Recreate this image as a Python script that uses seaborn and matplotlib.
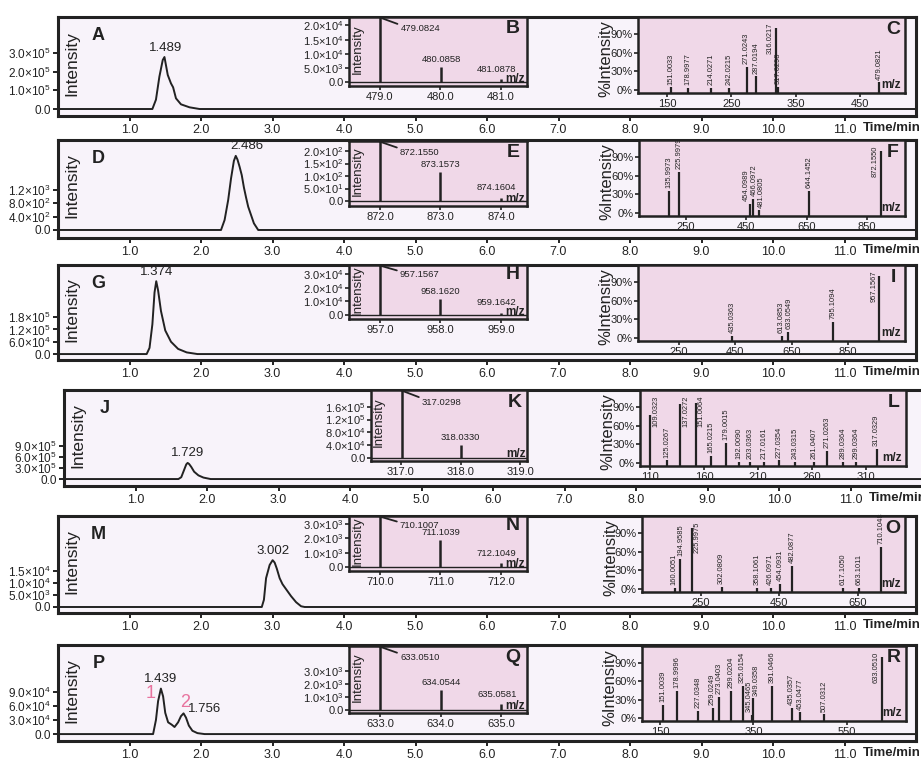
import matplotlib
matplotlib.use('Agg')
import matplotlib.pyplot as plt
import seaborn as sns

# ---------------- chromatograms: time/min, intensity ----------------
A_t = [0, 1.32, 1.37, 1.418, 1.465, 1.489, 1.535, 1.58, 1.61, 1.65, 1.72, 1.84, 1.98, 12]
A_i = [0, 0, 0.5e5, 1.73e5, 2.62e5, 2.78e5, 1.82e5, 1.37e5, 1.16e5, 0.57e5, 0.25e5, 0.09e5, 0, 0]
D_t = [0, 2.28, 2.33, 2.38, 2.42, 2.46, 2.486, 2.51, 2.54, 2.57, 2.60, 2.63, 2.66, 2.70, 2.74, 2.80, 12]
D_i = [0, 0, 300, 900, 1550, 2080, 2230, 2120, 1900, 1650, 1280, 980, 700, 450, 200, 0, 0]
G_t = [0, 1.24, 1.28, 1.32, 1.35, 1.374, 1.40, 1.44, 1.50, 1.58, 1.68, 1.80, 1.95, 12]
G_i = [0, 0, 0.3e5, 1.45e5, 3.0e5, 3.55e5, 3.1e5, 2.1e5, 1.15e5, 0.6e5, 0.25e5, 0.08e5, 0, 0]
J_t = [0, 1.60, 1.64, 1.68, 1.71, 1.729, 1.75, 1.78, 1.82, 1.88, 1.95, 2.05, 12]
J_i = [0, 0, 0.5e5, 2.5e5, 4.0e5, 4.4e5, 4.1e5, 3.3e5, 2.0e5, 1.0e5, 0.4e5, 0, 0]
M_t = [0, 2.85, 2.88, 2.91, 2.96, 3.002, 3.03, 3.06, 3.10, 3.14, 3.20, 3.26, 3.33, 3.40, 3.45, 12]
M_i = [0, 0, 3000, 12000, 17500, 19500, 18500, 16000, 12000, 9500, 7000, 4500, 2000, 300, 0, 0]
P_t = [0, 1.33, 1.37, 1.40, 1.439, 1.47, 1.50, 1.54, 1.59, 1.63, 1.68, 1.72, 1.756, 1.79, 1.83, 1.88, 1.95, 2.05, 12]
P_i = [0, 0, 30000, 70000, 96500, 80000, 45000, 25000, 20000, 15000, 25000, 38000, 44000, 35000, 18000, 7000, 2000, 0, 0]

# retention time labels
A_rt = ['1.489']; D_rt = ['2.486']; G_rt = ['1.374']; J_rt = ['1.729']; M_rt = ['3.002']; P_rt = ['1.439', '1.756']

# ---------------- full-scan MS (isotope) insets ----------------
B_mz = [479.01, 480.01, 481.0]; B_int = [2.4e4, 5.4e3, 1.0e3]; B_lab = ['479.0824', '480.0858', '481.0878']
E_mz = [872.0, 873.0, 874.0]; E_int = [260, 116, 12]; E_lab = ['872.1550', '873.1573', '874.1604']
H_mz = [957.0, 958.0, 959.0]; H_int = [4.0e4, 1.17e4, 1.8e3]; H_lab = ['957.1567', '958.1620', '959.1642']
K_mz = [317.02, 318.0]; K_int = [2.2e5, 4.1e4]; K_lab = ['317.0298', '318.0330']
N_mz = [710.0, 711.0, 712.0]; N_int = [4.0e3, 1.9e3, 250]; N_lab = ['710.1007', '711.1039', '712.1049']
Q_mz = [633.0, 634.0, 635.0]; Q_int = [5.2e3, 1550, 460]; Q_lab = ['633.0510', '634.0544', '635.0581']

# ---------------- MS/MS insets (% intensity) ----------------
C_mz = [155.7, 183, 218, 246, 273.7, 289, 318.7, 322, 479]
C_int = [4, 3, 3, 3, 37, 22, 100, 5, 12]
C_lab = ['151.0033', '178.9977', '214.0271', '242.0215', '271.0243', '287.0194', '316.0217', '317.0298', '479.0821']
F_mz = [194, 227, 462, 472, 492, 658, 896]
F_int = [36, 67, 15, 23, 4, 36, 100]
F_lab = ['135.9973', '225.9979', '454.0989', '466.0972', '481.0805', '644.1452', '872.1550']
I_mz = [438, 616, 637, 797, 961]
I_int = [3, 3, 10, 26, 100]
I_lab = ['435.0363', '613.0853', '633.0549', '795.1094', '957.1567']
L_mz = [110, 126, 137.8, 152.3, 166.2, 180.4, 192.5, 202.6, 215.6, 229.4, 244.3, 261.9, 273.6, 288.7, 300.7, 319.9]
L_int = [78, 4, 95, 97, 11, 33, 2, 2, 2, 4, 2, 2, 20, 2, 2, 23]
L_lab = ['109.0323', '125.0267', '137.0272', '151.0064', '165.0215', '179.0015', '192.0090', '203.0363',
         '217.0161', '227.0354', '243.0315', '261.0407', '271.0263', '289.0364', '299.0364', '317.0329']
O_mz = [184.6, 197.3, 227, 303.3, 394, 428, 451.8, 483, 613, 653.6, 708.8]
O_int = [2, 48, 98, 3, 2, 2, 8, 37, 2, 2, 68]
O_lab = ['160.0051', '194.9585', '225.9975', '302.0809', '358.1061', '426.0971', '454.0931', '482.0877',
         '617.1050', '663.1011', '710.1048']
R_mz = [157, 185.7, 232, 263, 275.8, 301.5, 327, 346.4, 350, 390.7, 432, 450, 502, 625]
R_int = [21, 45, 11, 16, 34, 45, 53, 5, 32, 53, 16, 9, 6, 100]
R_lab = ['151.0039', '178.9996', '227.0348', '259.0249', '273.0403', '299.0204', '325.0154', '345.0465',
         '349.0358', '391.0466', '435.0357', '453.0477', '507.0312', '633.0510']

W, H = 921, 762
sns.set_theme(style='white')
plt.rcParams['font.family'] = ['Liberation Sans', 'DejaVu Sans']
plt.rcParams['mathtext.default'] = 'regular'

MAIN_BG = '#F8F3FA'
INSET_BG = '#F0D8E8'
INK = '#222222'
PINK = '#E8739E'
LAB_FS = 5.4


def sci(m, e):
    return f'{m:.1f}×10$^{{{e}}}$'


def add_ax(fig, x0, y0, x1, y1):
    return fig.add_axes([x0 / W, 1 - y1 / H, (x1 - x0) / W, (y1 - y0) / H])


def frame(ax, bg, lw):
    ax.set_facecolor(bg)
    for s in ax.spines.values():
        s.set_visible(True)
        s.set_color(INK)
        s.set_linewidth(lw)


def spread(xs, gap):
    # push label centres apart (pixel units) so that neighbours keep a minimum gap
    order = sorted(range(len(xs)), key=lambda i: xs[i])
    clusters = []
    for i in order:
        clusters.append([i])
        while len(clusters) > 1:
            a, b = clusters[-2], clusters[-1]
            ca = sum(xs[j] for j in a) / len(a)
            cb = sum(xs[j] for j in b) / len(b)
            if (cb - (len(b) - 1) * gap / 2) - (ca + (len(a) - 1) * gap / 2) < gap:
                clusters[-2:] = [a + b]
            else:
                break
    out = [0.0] * len(xs)
    for c in clusters:
        c = sorted(c, key=lambda j: xs[j])
        m = sum(xs[j] for j in c) / len(c)
        start = m - (len(c) - 1) * gap / 2
        for k, j in enumerate(c):
            out[j] = start + k * gap
    return out


def main_panel(fig, box, t, y, rts, ylim, yt, ytl, letter, rt_dx=0):
    ax = add_ax(fig, *box)
    frame(ax, MAIN_BG, 2.2)
    sns.lineplot(x=t, y=y, ax=ax, color=INK, lw=1.4, estimator=None)
    ax.set_xlim(0, 12)
    ax.set_ylim(*ylim)
    ax.set_xticks(range(1, 12))
    ax.set_xticklabels([f'{v:.1f}' for v in range(1, 12)])
    ax.set_yticks(yt)
    ax.set_yticklabels(ytl)
    ax.tick_params(axis='both', direction='out', length=3.5, width=1.4, color=INK,
                   labelsize=8.5, labelcolor=INK, pad=1.5, left=True, bottom=True)
    ax.tick_params(axis='x', pad=2.5, labelsize=9)
    ax.set_xlabel('')
    ax.set_ylabel('')
    ax.text(0.016, 0.53, 'Intensity', transform=ax.transAxes, rotation=90,
            ha='center', va='center', fontsize=12.5, color=INK)
    ax.text(0.047, 0.81, letter, transform=ax.transAxes, ha='center', va='center',
            fontsize=13, fontweight='bold', color=INK)
    ax.text(11.26, -0.065, 'Time/min', transform=ax.get_xaxis_transform(), ha='left', va='top',
            fontsize=9.5, fontweight='bold', color=INK)
    for k, lab in enumerate(rts):
        tt = float(lab)
        idx = min(range(len(t)), key=lambda j: abs(t[j] - tt))
        if k == 0:
            ax.annotate(lab, (tt, y[idx]), xytext=(rt_dx, 2.5), textcoords='offset points',
                        ha='center', va='bottom', fontsize=9.5, color=INK)
        else:
            ax.annotate(lab, (tt, y[idx]), xytext=(3, -1), textcoords='offset points',
                        ha='left', va='bottom', fontsize=9.5, color=INK)
    return ax


def iso_inset(fig, box, mz, inten, labs, xlim, ylim, xt, yt, ytl, letter):
    ax = add_ax(fig, *box)
    frame(ax, INSET_BG, 1.8)
    ax.axhline(0, color=INK, lw=1.0)
    ax.vlines(mz, 0, inten, color=INK, lw=1.8)
    ax.set_xlim(*xlim)
    ax.set_ylim(*ylim)
    ax.set_xticks(xt)
    ax.set_xticklabels([f'{v:.1f}' for v in xt])
    ax.set_yticks(yt)
    ax.set_yticklabels(ytl)
    ax.tick_params(axis='both', direction='out', length=3, width=1.2, color=INK,
                   labelsize=8, labelcolor=INK, pad=1, left=True, bottom=True)
    ax.grid(False)
    # base peak: leader line and label to its right
    ax.plot([mz[0], mz[0] + 0.28], [0.99, 0.9], color=INK, lw=1.3,
            transform=ax.get_xaxis_transform(), clip_on=False)
    ax.text(mz[0] + 0.33, 0.83, labs[0], transform=ax.get_xaxis_transform(),
            ha='left', va='center', fontsize=6.8, color=INK)
    for k, (m, v, lab) in enumerate(zip(mz[1:], inten[1:], labs[1:])):
        dx, dy = (0, 2) if k == 0 else (-3, 4)
        ax.annotate(lab, (m, v), xytext=(dx, dy), textcoords='offset points',
                    ha='center', va='bottom', fontsize=6.8, color=INK)
    ax.text(0.048, 0.54, 'Intensity', transform=ax.transAxes, rotation=90,
            ha='center', va='center', fontsize=9.5, color=INK)
    ax.text(0.92, 0.83, letter, transform=ax.transAxes, ha='center', va='center',
            fontsize=14, fontweight='bold', color=INK)
    ax.text(0.99, 0.02, 'm/z', transform=ax.transAxes, ha='right', va='bottom',
            fontsize=8.5, fontweight='bold', color=INK)
    return ax


def msms_inset(fig, box, mz, inten, labs, xlim, xt, letter):
    ax = add_ax(fig, *box)
    frame(ax, INSET_BG, 1.8)
    ylim = (-5, 118)
    ax.vlines(mz, ylim[0], inten, color=INK, lw=1.6)
    ax.set_xlim(*xlim)
    ax.set_ylim(*ylim)
    ax.set_xticks(xt)
    ax.set_yticks([0, 30, 60, 90])
    ax.set_yticklabels(['0%', '30%', '60%', '90%'])
    ax.tick_params(axis='both', direction='out', length=3, width=1.2, color=INK,
                   labelsize=8, labelcolor=INK, pad=1, left=True, bottom=True)
    ax.grid(False)
    ppu = (box[2] - box[0]) / (xlim[1] - xlim[0])
    px = [(m - xlim[0]) * ppu for m in mz]
    width = box[2] - box[0]
    # anchor of each label in pixels: beside tall sticks, above the others
    anchor = []
    for p, v in zip(px, inten):
        if v > 75:
            crowded = any(0 < q - p < 8 for q in px)
            side = -1 if (p / width > 0.85 or crowded) else 1
            anchor.append(p + side * 5.5)
        else:
            anchor.append(p)
    placed = spread(anchor, 7.2)
    for p, v, lab in zip(placed, inten, labs):
        xm = xlim[0] + p / ppu
        if v > 75:
            ax.annotate(lab, (xm, 109), rotation=90, ha='center', va='top',
                        fontsize=LAB_FS, color=INK)
        else:
            ax.annotate(lab, (xm, v), xytext=(0, 2), textcoords='offset points', rotation=90,
                        ha='center', va='bottom', fontsize=LAB_FS, color=INK)
    ax.text(-0.12, 0.45, '%Intensity', transform=ax.transAxes, rotation=90,
            ha='center', va='center', fontsize=12, color=INK)
    ax.text(0.955, 0.84, letter, transform=ax.transAxes, ha='center', va='center',
            fontsize=14, fontweight='bold', color=INK)
    ax.text(0.985, 0.03, 'm/z', transform=ax.transAxes, ha='right', va='bottom',
            fontsize=8.5, fontweight='bold', color=INK)
    return ax


fig = plt.figure(figsize=(W / 100, H / 100), dpi=100)
fig.patch.set_facecolor('white')

# ---- row A / B / C ----
main_panel(fig, (58, 17, 916, 116), A_t, A_i, A_rt, (-0.374e5, 4.92e5),
           [0, 1e5, 2e5, 3e5], ['0.0', sci(1.0, 5), sci(2.0, 5), sci(3.0, 5)], 'A', rt_dx=1)
iso_inset(fig, (349, 17, 527, 86), B_mz, B_int, B_lab, (478.49, 481.43), (-1.4e3, 2.3e4),
          [479.0, 480.0, 481.0], [0, 5e3, 1e4, 1.5e4, 2e4],
          ['0.0', sci(5.0, 3), sci(1.0, 4), sci(1.5, 4), sci(2.0, 4)], 'B')
msms_inset(fig, (638, 17, 905, 93), C_mz, C_int, C_lab, (105, 519.6), [150, 250, 350, 450], 'C')

# ---- row D / E / F ----
main_panel(fig, (58, 140, 916, 238), D_t, D_i, D_rt, (-241, 2707),
           [0, 400, 800, 1200], ['0.0', sci(4.0, 2), sci(8.0, 2), sci(1.2, 3)], 'D', rt_dx=8)
iso_inset(fig, (349, 141, 527, 206), E_mz, E_int, E_lab, (871.49, 874.43), (-20, 240),
          [872.0, 873.0, 874.0], [0, 50, 100, 150, 200],
          ['0.0', sci(5.0, 1), sci(1.0, 2), sci(1.5, 2), sci(2.0, 2)], 'E')
msms_inset(fig, (639, 140, 905, 216), F_mz, F_int, F_lab, (94, 976), [250, 450, 650, 850], 'F')

# ---- row G / H / I ----
main_panel(fig, (58, 265, 916, 360), G_t, G_i, G_rt, (-2.9e4, 4.34e5),
           [0, 6e4, 1.2e5, 1.8e5], ['0.0', sci(6.0, 4), sci(1.2, 5), sci(1.8, 5)], 'G')
iso_inset(fig, (349, 265, 527, 319), H_mz, H_int, H_lab, (956.49, 959.43), (-2.9e3, 3.65e4),
          [957.0, 958.0, 959.0], [0, 1e4, 2e4, 3e4],
          ['0.0', sci(1.0, 4), sci(2.0, 4), sci(3.0, 4)], 'H')
msms_inset(fig, (638, 265, 905, 341), I_mz, I_int, I_lab, (104.5, 1052), [250, 450, 650, 850], 'I')

# ---- row J / K / L ----
main_panel(fig, (64, 390, 922, 486), J_t, J_i, J_rt, (-1.9e5, 2.43e6),
           [0, 3e5, 6e5, 9e5], ['0.0', sci(3.0, 5), sci(6.0, 5), sci(9.0, 5)], 'J')
iso_inset(fig, (371, 390, 527, 461), K_mz, K_int, K_lab, (316.5, 319.11), (-0.94e4, 21.2e4),
          [317.0, 318.0, 319.0], [0, 4e4, 8e4, 1.2e5, 1.6e5],
          ['0.0', sci(4.0, 4), sci(8.0, 4), sci(1.2, 5), sci(1.6, 5)], 'K')
msms_inset(fig, (640, 390, 906, 466), L_mz, L_int, L_lab, (100.7, 347), [110, 160, 210, 260, 310], 'L')

# ---- row M / N / O ----
main_panel(fig, (58, 516, 916, 613), M_t, M_i, M_rt, (-2500, 37900),
           [0, 5e3, 1e4, 1.5e4], ['0.0', sci(5.0, 3), sci(1.0, 4), sci(1.5, 4)], 'M')
iso_inset(fig, (349, 516, 527, 571), N_mz, N_int, N_lab, (709.49, 712.43), (-280, 3570),
          [710.0, 711.0, 712.0], [0, 1e3, 2e3, 3e3],
          ['0.0', sci(1.0, 3), sci(2.0, 3), sci(3.0, 3)], 'N')
msms_inset(fig, (642, 516, 905, 592), O_mz, O_int, O_lab, (100.6, 769.6), [250, 450, 650], 'O')

# ---- row P / Q / R ----
axP = main_panel(fig, (58, 645, 916, 741), P_t, P_i, P_rt, (-1.47e4, 1.89e5),
                 [0, 3e4, 6e4, 9e4], ['0.0', sci(3.0, 4), sci(6.0, 4), sci(9.0, 4)], 'P')
axP.text(1.29, 0.49, '1', transform=axP.get_xaxis_transform(), ha='center', va='center',
         fontsize=13, color=PINK)
axP.text(1.78, 0.40, '2', transform=axP.get_xaxis_transform(), ha='center', va='center',
         fontsize=13, color=PINK)
iso_inset(fig, (349, 646, 527, 713), Q_mz, Q_int, Q_lab, (632.49, 635.42), (-230, 4960),
          [633.0, 634.0, 635.0], [0, 1e3, 2e3, 3e3],
          ['0.0', sci(1.0, 3), sci(2.0, 3), sci(3.0, 3)], 'Q')
msms_inset(fig, (642, 646, 906, 721), R_mz, R_int, R_lab, (111.4, 677), [150, 350, 550], 'R')

plt.savefig('out.png', dpi=100, facecolor='white')
plt.close()
